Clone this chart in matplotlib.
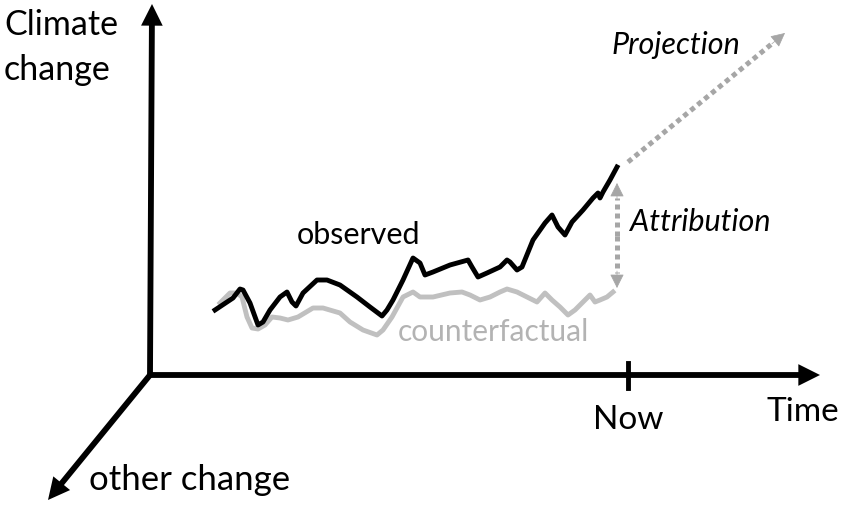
import numpy as np
import matplotlib.pyplot as plt
from matplotlib.patches import FancyArrowPatch

plt.rcParams['font.family'] = ['Lato', 'DejaVu Sans']

# ── data (picture pixel coords, y grows downward) ─────────
obs_x = [215, 233, 240, 243, 250, 258, 263, 270, 280, 287, 292, 296, 303, 317, 327,
         340, 357, 370, 382, 387, 393, 403, 413, 420, 425, 433, 450, 468, 472, 478,
         487, 500, 507, 510, 517, 522, 533, 545, 552, 558, 565, 572, 583, 593, 598,
         600, 603, 610, 617]
obs_y = [310, 298, 289, 290, 303, 325, 322, 310, 297, 292, 302, 306, 293, 280, 280,
         285, 297, 307, 316, 310, 300, 280, 258, 263, 275, 272, 265, 260, 267, 277,
         273, 267, 260, 262, 270, 267, 240, 223, 215, 227, 235, 222, 210, 198, 193,
         198, 192, 180, 167]

cf_x = [220, 230, 237, 242, 247, 252, 258, 265, 272, 280, 288, 298, 313, 323, 340,
        350, 363, 377, 383, 392, 403, 413, 420, 433, 450, 462, 470, 480, 490, 500,
        507, 517, 527, 537, 545, 552, 560, 568, 575, 582, 590, 595, 600, 607, 613]
cf_y = [303, 293, 293, 297, 317, 328, 329, 325, 317, 318, 320, 317, 308, 308, 313,
        322, 330, 335, 330, 317, 297, 292, 297, 297, 293, 292, 295, 300, 297, 292,
        289, 292, 297, 302, 293, 300, 307, 315, 310, 303, 295, 302, 300, 297, 292]

origin = (150, 375)
now_x = 628

black = "#000000"
grey_line = "#c0c0c0"
grey_dots = "#a6a6a6"

fig = plt.figure(figsize=(8.5, 5.07), dpi=100)
ax = fig.add_axes([0, 0, 1, 1])
ax.set_xlim(0, 850)
ax.set_ylim(507, 0)
ax.axis("off")


def arrow(p0, p1, color, lw, ms=22):
    a = FancyArrowPatch(p0, p1, arrowstyle="-|>", mutation_scale=ms,
                        color=color, lw=lw, shrinkA=0, shrinkB=0,
                        capstyle="butt", joinstyle="miter")
    ax.add_patch(a)


def dotted_arrow(p0, p1, lw=3.6, head=15):
    # dotted shaft, solid triangular head
    p0, p1 = np.array(p0, float), np.array(p1, float)
    d = p1 - p0
    d = d / np.hypot(*d)
    base = p1 - d * head
    ax.plot([p0[0], base[0]], [p0[1], base[1]], color=grey_dots, lw=lw,
            linestyle=(0, (1, 0.8)), dash_capstyle="butt")
    a = FancyArrowPatch(tuple(base - d * 2), tuple(p1), arrowstyle="-|>",
                        mutation_scale=22, color=grey_dots, lw=0.5,
                        shrinkA=0, shrinkB=0)
    ax.add_patch(a)


# axes arrows
arrow(origin, (152, 4), black, 4.2)
arrow(origin, (820, 375), black, 4.2)
arrow(origin, (48, 500), black, 4.2)
ax.plot([now_x, now_x], [363, 388], color=black, lw=3.5)

# series
ax.plot(cf_x, cf_y, color=grey_line, lw=3.5, solid_joinstyle="round")
ax.plot(obs_x, obs_y, color=black, lw=3.5, solid_joinstyle="round")

# attribution and projection arrows
dotted_arrow((617, 236), (617, 183))
dotted_arrow((617, 236), (617, 288))
dotted_arrow((628, 162), (785, 33))

# labels
ax.text(4, 25, "Climate", fontsize=24.5, va="center", ha="left")
ax.text(4, 70, "change", fontsize=24.5, va="center", ha="left")
ax.text(89, 480, "other change", fontsize=25, va="center", ha="left")
ax.text(now_x, 420, "Now", fontsize=24, va="center", ha="center")
ax.text(767, 412, "Time", fontsize=24, va="center", ha="left")
ax.text(297, 235, "observed", fontsize=22, va="center", ha="left")
ax.text(398, 332, "counterfactual", fontsize=21.5, va="center", ha="left",
        color="#b3b3b3")
ax.text(630, 222, "Attribution", fontsize=22, va="center", ha="left",
        style="italic")
ax.text(612, 45, "Projection", fontsize=22, va="center", ha="left",
        style="italic")

plt.savefig("out.png", dpi=100)
